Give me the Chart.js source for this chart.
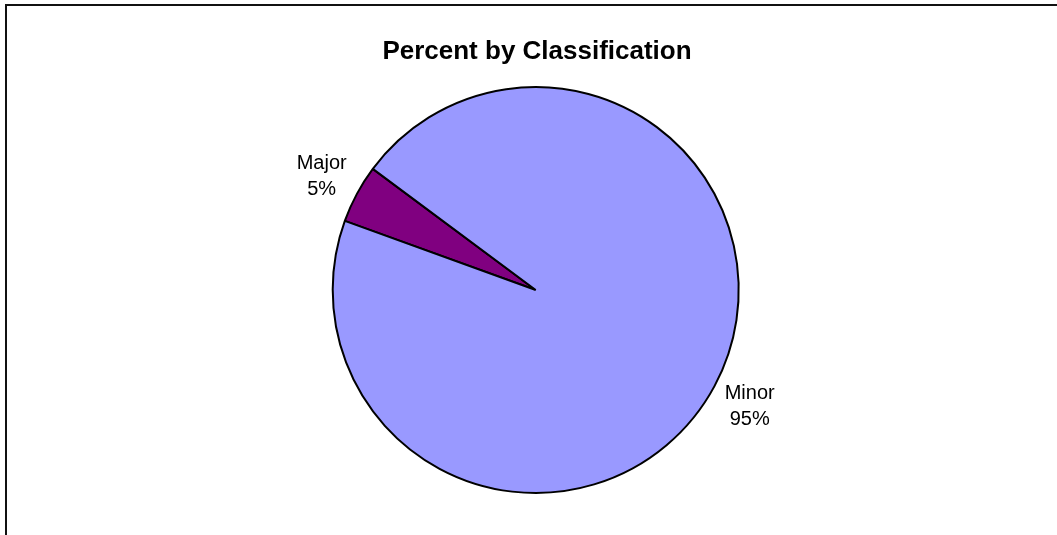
<!DOCTYPE html>
<html>
<head>
<meta charset="utf-8">
<style>
  html, body { margin: 0; padding: 0; background: #fff; }
  #wrap { position: relative; width: 1057px; height: 535px; }
  canvas { display: block; }
</style>
<script src="https://cdn.jsdelivr.net/npm/chart.js@4.4.1/dist/chart.umd.min.js"></script>
</head>
<body>
<div id="wrap"><canvas id="c" width="1057" height="535"></canvas></div>
<script>
const titleText = "Percent by Classification";
const categories = ["Major", "Minor"];
const values = [4.65, 95.35];
const colors = ["#800080", "#9999FF"];

const FONT = '"Liberation Sans", Arial, Helvetica, sans-serif';

const framePlugin = {
  id: 'frame',
  beforeDraw(chart) {
    const ctx = chart.ctx;
    ctx.save();
    ctx.fillStyle = '#ffffff';
    ctx.fillRect(0, 0, chart.width, chart.height);
    ctx.fillStyle = '#111111';
    ctx.fillRect(5, 4, chart.width - 5, 2);
    ctx.fillRect(5, 4, 2, chart.height - 4);
    ctx.restore();
  }
};

const labelPlugin = {
  id: 'pieLabels',
  afterDraw(chart) {
    const ctx = chart.ctx;
    ctx.save();
    // title
    ctx.fillStyle = '#000';
    ctx.font = 'bold 26px ' + FONT;
    ctx.textAlign = 'center';
    ctx.textBaseline = 'alphabetic';
    ctx.fillText(titleText, 537, 59);
    // slice labels
    const meta = chart.getDatasetMeta(0);
    const data = chart.data.datasets[0].data;
    const total = data.reduce((a, b) => a + b, 0);
    ctx.font = '20px ' + FONT;
    meta.data.forEach((arc, i) => {
      const p = arc.getProps(['x', 'y', 'startAngle', 'endAngle', 'outerRadius'], true);
      const mid = (p.startAngle + p.endAngle) / 2;
      const r = p.outerRadius + 40;
      const x = p.x + Math.cos(mid) * r;
      const y = p.y + Math.sin(mid) * r;
      const pct = Math.round(data[i] / total * 100) + '%';
      ctx.fillText(chart.data.labels[i], x, y - 6.3);
      ctx.fillText(pct, x, y + 20.3);
    });
    ctx.restore();
  }
};

new Chart(document.getElementById('c'), {
  type: 'pie',
  data: {
    labels: categories,
    datasets: [{
      data: values,
      backgroundColor: colors,
      borderColor: '#000000',
      borderWidth: 2
    }]
  },
  options: {
    responsive: false,
    animation: false,
    rotation: -70.1,
    radius: 203,
    layout: { padding: { left: 14.4, right: 0, top: 45, bottom: 0 } },
    plugins: {
      legend: { display: false },
      title: { display: false },
      tooltip: { enabled: false }
    }
  },
  plugins: [framePlugin, labelPlugin]
});
</script>
</body>
</html>
